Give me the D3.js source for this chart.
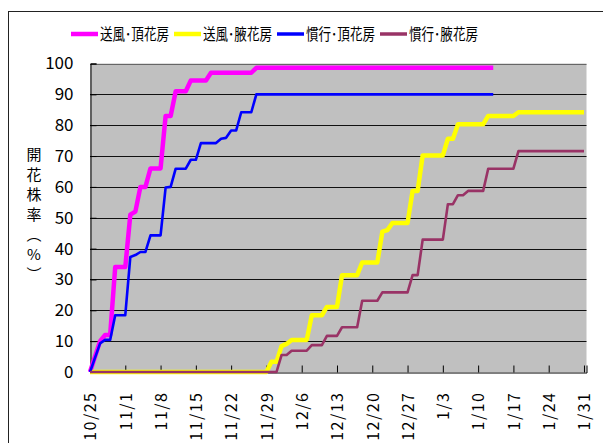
<!DOCTYPE html>
<html><head><meta charset="utf-8">
<script src="https://cdn.jsdelivr.net/npm/d3@7"></script>
<style>body{margin:0;background:#fff} svg{display:block}</style>
</head><body><svg id="c" width="603" height="443"></svg>
<script>
// ---- data ----
const seriesNames = ["送風･頂花房", "送風･腋花房", "慣行･頂花房", "慣行･腋花房"];
const seriesColors = ["#FF00FF", "#FFFF00", "#0000FF", "#993366"];
const startDate = "2010-10-25";
// days after 10/25 and flowering rate (%)
const pinkDays   = [0, 2, 3, 4, 5, 7, 8, 9, 10, 11, 12, 14, 15, 16, 17, 19, 20, 23, 24, 32, 33, 80];
const pinkValues = [0, 10, 12, 12, 34, 34, 51, 52, 60, 60, 66, 66, 83, 83, 91, 91, 94.5, 94.5, 97, 97, 98.6, 98.6];
const yellowDays   = [0, 35, 36, 37, 38, 39, 40, 43, 44, 46, 47, 49, 50, 53, 54, 57, 58, 59, 60, 63, 64, 65, 66, 70, 71, 72, 73, 78, 79, 84, 85, 98];
const yellowValues = [0, 0, 3.3, 3.3, 8.4, 9.1, 10.4, 10.4, 18.4, 18.4, 21.1, 21.1, 31.4, 31.4, 35.5, 35.5, 45.5, 46, 48.3, 48.3, 58.7, 58.7, 70.2, 70.2, 75.6, 75.6, 80.3, 80.3, 83, 83, 84.2, 84.2];
const blueDays   = [0, 2, 3, 4, 5, 7, 8, 9, 10, 11, 12, 14, 15, 16, 17, 19, 20, 21, 22, 25, 26, 27, 28, 29, 30, 32, 33, 80];
const blueValues = [0, 9.3, 10.4, 10.4, 18.4, 18.4, 37.3, 37.9, 38.9, 38.9, 44.3, 44.3, 59.8, 60, 65.9, 65.9, 68.8, 68.8, 74.2, 74.2, 75.6, 75.9, 78.3, 78.3, 84.2, 84.2, 90, 90];
const purpleDays   = [0, 37, 38, 39, 40, 43, 44, 46, 47, 49, 50, 53, 54, 57, 58, 63, 64, 65, 66, 70, 71, 72, 73, 74, 75, 78, 79, 84, 85, 98];
const purpleValues = [0, 0, 5.5, 5.5, 6.9, 6.9, 8.7, 8.7, 11.7, 11.7, 14.5, 14.5, 23.1, 23.1, 25.8, 25.8, 31.4, 31.4, 42.9, 42.9, 54.4, 54.4, 57.3, 57.3, 58.7, 58.7, 65.9, 65.9, 71.6, 71.6];
const yTicks = [0, 10, 20, 30, 40, 50, 60, 70, 80, 90, 100];
const xTickLabels = ["10/25", "11/1", "11/8", "11/15", "11/22", "11/29", "12/6", "12/13", "12/20", "12/27", "1/3", "1/10", "1/17", "1/24", "1/31"];
const yTitle = "開花株率（%）";

// ---- layout ----
const svg = d3.select("#c");
const font = "'Noto Sans CJK JP', 'Noto Sans', sans-serif";
const L = 90, R = 586.5, T = 63.5, B = 372;
const day0 = new Date(startDate + "T00:00:00Z");
const toDate = d => d3.utcDay.offset(day0, d);
const x = d3.scaleUtc().domain([day0, new Date(day0.getTime() + 98.5 * 864e5)]).range([L, R]);
const y = d3.scaleLinear().domain([0, 100]).range([B, T]);

// outer frame
svg.append("rect").attr("x", 8.5).attr("y", 11.5).attr("width", 700).attr("height", 600)
  .attr("fill", "#fff").attr("stroke", "#222").attr("stroke-width", 1);

// plot area
svg.append("rect").attr("x", L).attr("y", T).attr("width", R - L).attr("height", B - T).attr("fill", "#C0C0C0");

// gridlines
svg.append("g").selectAll("line").data(yTicks.filter(v => v > 0)).join("line")
  .attr("x1", L).attr("x2", R)
  .attr("y1", d => Math.round(y(d)) + 0.5).attr("y2", d => Math.round(y(d)) + 0.5)
  .attr("stroke", d => d === 100 ? "#666" : "#111").attr("stroke-width", 1);

// y axis
const yAxis = d3.axisLeft(y).tickValues(yTicks).tickSize(-6).tickPadding(17);
const gy = svg.append("g").attr("transform", `translate(${L + 0.5},0)`).call(yAxis);
gy.select(".domain").attr("stroke", "#000");
gy.selectAll(".tick line").attr("stroke", "#000");
gy.selectAll("text").attr("font-family", font).attr("font-size", 17).attr("fill", "#000");

// x axis
const tickDates = xTickLabels.map((_, i) => toDate(i * 7));
const xAxis = d3.axisBottom(x).tickValues(tickDates).tickSize(-7).tickFormat((d, i) => xTickLabels[i]);
const gx = svg.append("g").attr("transform", `translate(0,${B + 0.5})`).call(xAxis);
gx.select(".domain").attr("stroke", "#000");
gx.selectAll(".tick line").attr("stroke", "#000");
gx.selectAll("text")
  .attr("font-family", font).attr("font-size", 16).attr("fill", "#000")
  .attr("letter-spacing", "1.5px")
  .attr("text-anchor", "end")
  .attr("transform", "rotate(-90)")
  .attr("x", -19).attr("y", 0).attr("dy", "0.36em");

// lines
const series = [
  {days: pinkDays, values: pinkValues, w: 4.5},
  {days: yellowDays, values: yellowValues, w: 4.5},
  {days: blueDays, values: blueValues, w: 2.6},
  {days: purpleDays, values: purpleValues, w: 2.6}
];
const line = d3.line().x(d => x(toDate(d[0]))).y(d => y(d[1]));
series.forEach((s, i) => {
  svg.append("path")
    .datum(s.days.map((d, j) => [d, s.values[j]]))
    .attr("d", line).attr("fill", "none")
    .attr("stroke", seriesColors[i]).attr("stroke-width", s.w)
    .attr("stroke-linejoin", "round").attr("stroke-linecap", "butt");
});

// legend
const lg = svg.append("g");
let lx = 71;
const ly = 34;
seriesNames.forEach((n, i) => {
  lg.append("line").attr("x1", lx).attr("x2", lx + 27).attr("y1", ly).attr("y2", ly)
    .attr("stroke", seriesColors[i]).attr("stroke-width", i < 2 ? 4.5 : 3.5);
  lg.append("text").attr("x", lx + 29).attr("y", ly).attr("dy", "0.36em")
    .attr("font-family", font).attr("font-size", 15.5).attr("fill", "#000")
    .attr("textLength", 69).attr("lengthAdjust", "spacingAndGlyphs").text(n);
  lx += 29 + 69 + 5;
});

// y title (vertical)
svg.append("text")
  .attr("x", 34).attr("y", 147)
  .style("writing-mode", "vertical-rl")
  .style("text-orientation", "upright")
  .attr("letter-spacing", "5px")
  .attr("font-family", font).attr("font-size", 15).attr("fill", "#000")
  .text(yTitle);
</script></body></html>
